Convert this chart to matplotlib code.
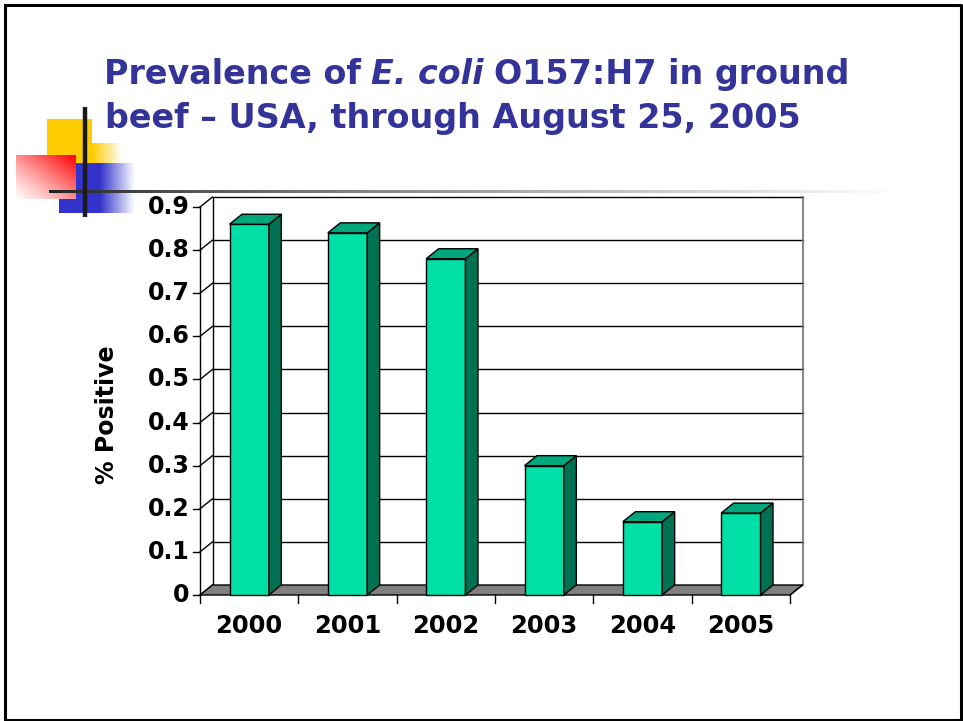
import numpy as np
import matplotlib.pyplot as plt
from matplotlib.patches import Polygon, Rectangle

# data
years = ['2000', '2001', '2002', '2003', '2004', '2005']
positive = [0.86, 0.84, 0.78, 0.30, 0.17, 0.19]
yticks = [0, 0.1, 0.2, 0.3, 0.4, 0.5, 0.6, 0.7, 0.8, 0.9]
ytick_labels = ['0', '0.1', '0.2', '0.3', '0.4', '0.5', '0.6', '0.7', '0.8', '0.9']

TITLE_COLOR = '#333399'
FRONT = '#00e0a6'
SIDE = '#007052'
TOP = '#00a67c'
FLOOR = '#808080'

W, H = 963, 721
fig = plt.figure(figsize=(W / 100, H / 100), dpi=100)

# slide layer in pixel units (y down)
deco = fig.add_axes([0, 0, 1, 1], zorder=0)
deco.axis('off')


def shade(x0, y0, x1, y1, rgb, alpha, z):
    a = np.clip(alpha, 0, 1)[..., None]
    img = 1 - a * (1 - np.array(rgb))
    deco.imshow(img, extent=(x0, x1, y1, y0), aspect='auto',
                interpolation='bilinear', zorder=z)


# yellow block
deco.add_patch(Rectangle((47, 119), 45, 44, color='#ffcc00', lw=0, zorder=1))
xs = np.linspace(0, 1, 60)
shade(92, 143, 122, 163, (1, 0.8, 0), np.tile(1 - xs, (10, 1)), 1)

# blue block, fading to the right
xb = np.linspace(59, 135, 150)
ab = np.clip((135 - xb) / 35, 0, 1)
shade(59, 163, 135, 213, (0.2, 0.2, 0.8), np.tile(ab, (10, 1)), 2)

# red block, strongest at top right
gx, gy = np.meshgrid(np.linspace(0, 1, 80), np.linspace(0, 1, 60))
shade(16, 155, 76, 199, (1, 0, 0), 0.02 + 0.98 * ((gx + 1 - gy) / 2) ** 1.2, 3)

# rule lines
t = np.linspace(0, 1, 400)
g = 0.12 + 0.88 * t ** 0.8
line_img = np.repeat(np.tile(g, (3, 1))[..., None], 3, axis=2)
deco.imshow(line_img, extent=(49, 900, 193, 190), aspect='auto', zorder=4)
deco.plot([85, 85], [107, 217], color='#1a1a1a', lw=3.2, zorder=5,
          solid_capstyle='butt')

# slide frame
deco.plot([4.5, 961, 961, 4.5, 4.5], [4.5, 4.5, 719.5, 719.5, 4.5],
          color='black', lw=2.2, zorder=6)

deco.set_xlim(0, W)
deco.set_ylim(H, 0)

# title, with the species name in italics
fig.canvas.draw()
renderer = fig.canvas.get_renderer()
fs_title = 24
space = 0.30 * fs_title * 100 / 72


def title_line(x, y, parts):
    for i, (s, style) in enumerate(parts):
        txt = deco.text(x, y, s, fontsize=fs_title, fontweight='bold',
                        fontstyle=style, color=TITLE_COLOR, va='baseline',
                        ha='left', family='DejaVu Sans', zorder=7)
        x += txt.get_window_extent(renderer).width + space


title_line(104, 84, [('Prevalence of', 'normal'), ('E. coli', 'italic'),
                     ('O157:H7 in ground', 'normal')])
title_line(105, 128, [('beef \u2013 USA, through August 25, 2005', 'normal')])

# chart in data units; depth offsets for the 3-D look
left, right, top, bottom = 200, 790, 207, 595
ax = fig.add_axes([left / W, (H - bottom) / H, (right - left) / W,
                   (bottom - top) / H], zorder=1)
ax.set_xlim(0, len(years))
ax.set_ylim(0, 0.9)
ax.axis('off')
n = len(years)
dx = 12.5 * n / (right - left)
dy = 10 * 0.9 / (bottom - top)
kw = dict(clip_on=False)

# back wall and floor
ax.add_patch(Rectangle((dx, dy), n, 0.9, facecolor='white', lw=0, zorder=1, **kw))
for v in yticks[1:-1]:
    ax.plot([dx, n + dx], [v + dy, v + dy], color='black', lw=1, zorder=1.5, **kw)
ax.plot([dx, dx, n + dx], [dy, 0.9 + dy, 0.9 + dy], color='black', lw=1,
        zorder=1.5, **kw)
ax.plot([n + dx, n + dx], [dy, 0.9 + dy], color='#707070', lw=1.2, zorder=1.5, **kw)
ax.add_patch(Polygon([(0, 0), (n, 0), (n + dx, dy), (dx, dy)], closed=True,
                     facecolor=FLOOR, edgecolor='black', lw=1, zorder=2, **kw))

# side wall edges and value axis
tx = 7 * n / (right - left)
for v, lab in zip(yticks, ytick_labels):
    ax.plot([0, dx], [v, v + dy], color='black', lw=1, zorder=1.5, **kw)
    ax.plot([-tx, 0], [v, v], color='black', lw=1, zorder=1.5, **kw)
    ax.text(-0.105, v, lab, ha='right', va='center', fontsize=17,
            fontweight='bold', **kw)
ax.plot([0, 0], [0, 0.9], color='black', lw=1, zorder=1.5, **kw)

# category axis
ty = 8 * 0.9 / (bottom - top)
for i in range(n + 1):
    ax.plot([i, i], [0, -ty], color='black', lw=1, **kw)
ax.plot([n, n + dx], [-0.0, dy], color='black', lw=1, **kw)
for i, lab in enumerate(years):
    ax.text(i + 0.5, -0.071, lab, ha='center', va='center', fontsize=17.5,
            fontweight='bold', **kw)

# columns: front face, right side, top
xc = np.arange(n) + 0.5
w = 0.4
ax.bar(xc, positive, width=w, color=FRONT, edgecolor='black', lw=1, zorder=3, **kw)
for x, v in zip(xc, positive):
    r = x + w / 2
    l = x - w / 2
    ax.add_patch(Polygon([(r, 0), (r + dx, dy), (r + dx, v + dy), (r, v)],
                         closed=True, facecolor=SIDE, edgecolor='black',
                         lw=1, zorder=3, **kw))
    ax.add_patch(Polygon([(l, v), (r, v), (r + dx, v + dy), (l + dx, v + dy)],
                         closed=True, facecolor=TOP, edgecolor='black',
                         lw=1, zorder=3, **kw))

fig.text(107 / W, 1 - 415 / H, '% Positive', rotation=90, ha='center',
         va='center', fontsize=17, fontweight='bold')

fig.savefig('out.png', dpi=100)
